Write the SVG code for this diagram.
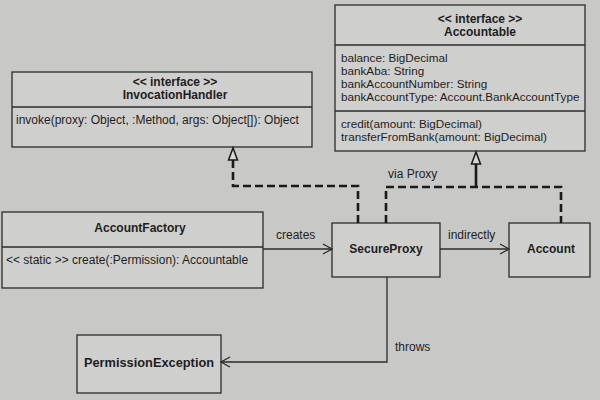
<svg xmlns="http://www.w3.org/2000/svg" width="600" height="400" viewBox="0 0 600 400">
<style>
  .box { fill: #cfcfcd; stroke: #2b2b2b; stroke-width: 1.3; }
  .sep { stroke: #2b2b2b; stroke-width: 1.3; }
  text { font-family: "Liberation Sans", Arial, sans-serif; fill: #1e1e1e; }
  .b { font-weight: bold; font-size: 12px; }
  .t { font-size: 12px; }
  .a { font-size: 11.7px; }
  .lbl { font-size: 12px; }
  .dash { fill: none; stroke: #1a1a1a; stroke-width: 2.6; stroke-dasharray: 8 4; }
  .solid { fill: none; stroke: #2b2b2b; stroke-width: 1.3; }
  .thick { fill: none; stroke: #1a1a1a; stroke-width: 2.6; }
  .tri { fill: #d6d6d4; stroke: #1a1a1a; stroke-width: 1.5; }
</style>
<defs>
  <marker id="open" markerWidth="12" markerHeight="12" refX="10" refY="6" orient="auto" markerUnits="userSpaceOnUse">
    <path d="M1,1 L10,6 L1,11" fill="none" stroke="#2b2b2b" stroke-width="1.3"/>
  </marker>
</defs>
<rect width="600" height="400" fill="#c8c8c6"/>

<g id="Accountable">
  <rect class="box" x="335" y="5" width="250" height="146"/>
  <line class="sep" x1="335" y1="45" x2="585" y2="45"/>
  <line class="sep" x1="335" y1="111" x2="585" y2="111"/>
  <text class="b" x="480" y="23" text-anchor="middle">&lt;&lt; interface &gt;&gt;</text>
  <text class="b" x="480" y="36" text-anchor="middle">Accountable</text>
  <text class="a" x="341" y="62">balance: BigDecimal</text>
  <text class="a" x="341" y="75">bankAba: String</text>
  <text class="a" x="341" y="88">bankAccountNumber: String</text>
  <text class="a" x="341" y="101">bankAccountType: Account.BankAccountType</text>
  <text class="a" x="341" y="128">credit(amount: BigDecimal)</text>
  <text class="a" x="341" y="141">transferFromBank(amount: BigDecimal)</text>
</g>

<g id="InvocationHandler">
  <rect class="box" x="12" y="72" width="300" height="75"/>
  <line class="sep" x1="12" y1="107" x2="312" y2="107"/>
  <text class="b" x="175" y="86" text-anchor="middle">&lt;&lt; interface &gt;&gt;</text>
  <text class="b" x="175" y="99" text-anchor="middle">InvocationHandler</text>
  <text class="t" x="16" y="124">invoke(proxy: Object, :Method, args: Object[]): Object</text>
</g>

<g id="AccountFactory">
  <rect class="box" x="2" y="212" width="261" height="76"/>
  <line class="sep" x1="2" y1="247" x2="263" y2="247"/>
  <text class="b" x="140" y="232" text-anchor="middle">AccountFactory</text>
  <text class="t" x="6" y="264">&lt;&lt; static &gt;&gt; create(:Permission): Accountable</text>
</g>

<g id="SecureProxy">
  <rect class="box" x="332" y="223" width="108" height="54"/>
  <text class="b" x="386" y="253" text-anchor="middle">SecureProxy</text>
</g>

<g id="Account">
  <rect class="box" x="509" y="223" width="81" height="54"/>
  <text class="b" x="551" y="253" text-anchor="middle">Account</text>
</g>

<g id="PermissionException">
  <rect class="box" x="77" y="335" width="144" height="58"/>
  <text class="b" x="149" y="367" text-anchor="middle" style="font-size:12.8px">PermissionException</text>
</g>

<g id="connectors">
  <!-- SecureProxy realizes InvocationHandler -->
  <path class="dash" d="M358,223 L358,186 L233,186 L233,160"/>
  <path class="tri" d="M233,148 L228.5,160 L237.5,160 Z"/>
  <!-- SecureProxy / Account realize Accountable via Proxy -->
  <path class="dash" d="M386,223 L386,187 L561,187 L561,223"/>
  <path class="thick" d="M476,187 L476,164"/>
  <path class="tri" d="M476,152 L471.5,164 L480.5,164 Z"/>
  <text class="lbl" x="388" y="178">via Proxy</text>
  <!-- creates -->
  <line class="solid" x1="263" y1="249" x2="332" y2="249" marker-end="url(#open)"/>
  <text class="lbl" x="276" y="239">creates</text>
  <!-- indirectly -->
  <line class="solid" x1="440" y1="249" x2="509" y2="249" marker-end="url(#open)"/>
  <text class="lbl" x="448" y="239">indirectly</text>
  <!-- throws -->
  <path class="solid" d="M387,277 L387,362 L221,362" marker-end="url(#open)"/>
  <text class="lbl" x="395" y="351">throws</text>
</g>
</svg>
